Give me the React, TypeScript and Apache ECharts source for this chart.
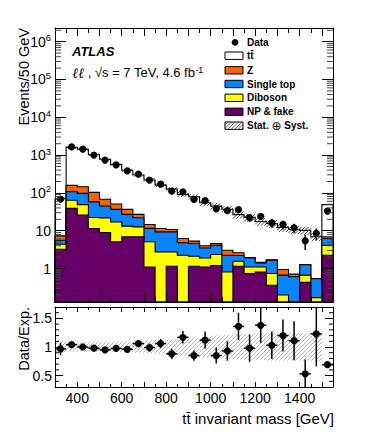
import React, { useEffect, useRef } from "react";
import * as echarts from "echarts";

const FONT = "'Liberation Sans', Arial, Helvetica, 'DejaVu Sans', sans-serif";

// ---- data ----
const binLow = [300, 350, 400, 450, 500, 550, 600, 650, 700, 750, 800, 850, 900, 950, 1000, 1050, 1100, 1150, 1200, 1250, 1300, 1350, 1400, 1450, 1500];
const BIN_WIDTH = 50;

const npFake = [3.2, 39, 26, 11.4, 9.0, 5.1, 6.9, 6.9, 1.1, 0, 1.15, 0, 1.15, 1.1, 1.2, 0, 1.15, 0.74, 0.81, 0.36, 0, 0, 0.43, 0, 2.25];
const diboson = [1.2, 25, 23, 11, 12.9, 11.9, 6.3, 5.7, 4.0, 2.75, 1.6, 2.25, 0.95, 0.8, 1.15, 0.81, 0.41, 0.36, 0.29, 0.38, 0.2, 0, 0.24, 0.17, 1.85];
const singleTop = [1.2, 43, 48, 35.6, 23.1, 19.6, 13.8, 9.4, 6.4, 6.55, 6.55, 2.55, 2.5, 1.6, 1.75, 1.44, 0.64, 0.8, 0.3, 0.92, 0.47, 0.61, 0.6, 0.37, 2.1];
const zJets = [1.7, 51, 48, 45, 23, 14.4, 9.6, 5, 3.1, 2.1, 1.5, 1.4, 0.7, 0.5, 0.5, 0.8, 0.4, 0.05, 0.05, 0.04, 0.27, 0.1, 0, 0, 0.7];
const ttbar = [62.7, 1438, 1295, 917, 711, 513, 359, 270, 205, 149, 115, 85, 74, 51, 40, 34, 24, 20.5, 16, 13.8, 11.3, 10, 8.9, 6.4, 42];

const dataCounts = [68, 1660, 1440, 1000, 740, 550, 380, 315, 218, 170, 111, 107, 67, 62, 38, 34, 36, 22, 24, 16, 14.6, 11.9, 5.4, 8.5, 33];
const dataErr = [8.2, 41, 38, 32, 27, 23, 19.5, 17.7, 14.8, 13, 10.5, 10.3, 8.2, 7.9, 6.2, 5.8, 6, 4.7, 4.9, 4, 3.8, 3.4, 2.3, 2.9, 5.7];

const ratioVals = [0.965, 1.04, 1.0, 0.98, 0.95, 0.975, 0.96, 1.06, 0.99, 1.06, 0.88, 1.17, 0.85, 1.12, 0.85, 0.93, 1.36, 0.98, 1.38, 1.03, 1.2, 1.11, 0.53, 1.23, 0.69];
const ratioErr = [0.11, 0.03, 0.03, 0.03, 0.04, 0.04, 0.05, 0.06, 0.07, 0.08, 0.09, 0.11, 0.09, 0.15, 0.14, 0.17, 0.24, 0.24, 0.31, 0.24, 0.28, 0.34, 0.25, 0.57, 0.05];
const relUnc = [0.1, 0.08, 0.08, 0.08, 0.08, 0.09, 0.09, 0.1, 0.11, 0.12, 0.13, 0.15, 0.16, 0.18, 0.2, 0.21, 0.22, 0.23, 0.23, 0.24, 0.24, 0.24, 0.24, 0.24, 0];

const xTickLabels = [400, 600, 800, 1000, 1200, 1400];
const ratioTickLabels = [0.5, 1, 1.5];
const ratioMinorTicks = [0.4, 0.6, 0.7, 0.8, 0.9, 1.1, 1.2, 1.3, 1.4, 1.6];

const X_MIN = 300;
const X_MAX = 1550;
const Y_MIN = 0.13;
const Y_MAX = 2.3e6;
const R_MIN = 0.3;
const R_MAX = 1.7;

const COL = {
  tt: "#ffffff",
  z: "#ff6200",
  st: "#0a84ff",
  dib: "#ffff00",
  np: "#660066",
};

const cumNP = npFake.slice();
const cumDib = cumNP.map((v, i) => v + diboson[i]);
const cumST = cumDib.map((v, i) => v + singleTop[i]);
const cumZ = cumST.map((v, i) => v + zJets[i]);
const cumTot = cumZ.map((v, i) => v + ttbar[i]);

const layers = [
  { vals: cumTot, color: COL.tt },
  { vals: cumZ, color: COL.z },
  { vals: cumST, color: COL.st },
  { vals: cumDib, color: COL.dib },
  { vals: cumNP, color: COL.np },
];

const logMinorTicks: number[] = [];
for (let e = -1; e <= 6; e++) {
  for (let k = 2; k <= 9; k++) {
    const v = k * Math.pow(10, e);
    if (v > Y_MIN && v < Y_MAX) logMinorTicks.push(v);
  }
}

function hatchLines(x0: number, x1: number, y0: number, y1: number, step: number, style: any) {
  const out: any[] = [];
  const cStart = Math.ceil((x0 + y0) / step) * step;
  for (let c = cStart; c <= x1 + y1; c += step) {
    const xa = Math.max(x0, c - y1);
    const xb = Math.min(x1, c - y0);
    if (xb - xa > 0.3) {
      out.push({ type: "line", shape: { x1: xa, y1: c - xa, x2: xb, y2: c - xb }, style });
    }
  }
  return out;
}

function buildOption(): any {
  const axisLineStyle = { color: "#000", width: 1 };
  const baseX = (grid: number, pos: string, showLabel: boolean, tickLen: number, minorLen: number) => ({
    type: "value",
    gridIndex: grid,
    position: pos,
    min: X_MIN,
    max: X_MAX,
    interval: 100,
    z: 10,
    axisLine: { show: true, onZero: false, lineStyle: axisLineStyle },
    axisTick: { show: true, inside: true, length: tickLen, lineStyle: { color: "#000" } },
    minorTick: { show: true, splitNumber: 2, length: minorLen, lineStyle: { color: "#000" } },
    splitLine: { show: false },
    axisLabel: showLabel
      ? {
          show: true,
          margin: 4,
          fontSize: 14,
          color: "#000",
          fontFamily: FONT,
          formatter: (v: number) => (xTickLabels.indexOf(v) >= 0 ? String(v) : ""),
        }
      : { show: false },
  });

  const logY = (pos: string, showLabel: boolean) => ({
    type: "log",
    logBase: 10,
    gridIndex: 0,
    position: pos,
    min: Y_MIN,
    max: Y_MAX,
    z: 10,
    axisLine: { show: true, onZero: false, lineStyle: axisLineStyle },
    axisTick: { show: true, inside: true, length: 11, lineStyle: { color: "#000" } },
    splitLine: { show: false },
    minorTick: { show: false },
    axisLabel: showLabel
      ? {
          show: true,
          margin: 4,
          fontSize: 14,
          color: "#000",
          fontFamily: FONT,
          lineHeight: 18,
          formatter: (v: number) => {
            const lg = Math.log10(v);
            const e = Math.round(lg);
            if (Math.abs(lg - e) > 1e-6) return "";
            if (e === 0) return "1";
            if (e === 1) return "10";
            return "10{sup|" + e + "}";
          },
          rich: {
            sup: { fontSize: 9.5, verticalAlign: "top", lineHeight: 10, fontFamily: FONT, color: "#000" },
          },
        }
      : { show: false },
  });

  const ratioY = (pos: string, showLabel: boolean) => ({
    type: "value",
    gridIndex: 1,
    position: pos,
    min: R_MIN,
    max: R_MAX,
    splitNumber: 3,
    z: 10,
    axisLine: { show: true, onZero: false, lineStyle: axisLineStyle },
    axisTick: { show: true, inside: true, length: 8, lineStyle: { color: "#000" } },
    splitLine: { show: false },
    minorTick: { show: false },
    axisLabel: showLabel
      ? {
          show: true,
          margin: 3,
          fontSize: 14,
          color: "#000",
          fontFamily: FONT,
          formatter: (v: number) => {
            const hit = ratioTickLabels.find((t) => Math.abs(t - v) < 1e-6);
            return hit !== undefined ? String(hit) : "";
          },
        }
      : { show: false },
  });

  const series: any[] = [];

  // stacked histograms drawn as filled step polygons
  series.push({
    type: "custom",
    xAxisIndex: 0,
    yAxisIndex: 0,
    z: 2,
    silent: true,
    data: layers.map((_, i) => [X_MIN, 1, i]),
    renderItem: (params: any, api: any) => {
      const layer = layers[params.dataIndex];
      const pts: number[][] = [];
      pts.push(api.coord([X_MIN, Y_MIN]));
      for (let i = 0; i < binLow.length; i++) {
        const v = layer.vals[i] > Y_MIN ? layer.vals[i] : Y_MIN;
        pts.push(api.coord([binLow[i], v]));
        pts.push(api.coord([binLow[i] + BIN_WIDTH, v]));
      }
      pts.push(api.coord([X_MAX, Y_MIN]));
      return {
        type: "polygon",
        shape: { points: pts },
        style: { fill: layer.color, stroke: "#000", lineWidth: 1.1 },
      };
    },
  });

  // hatched uncertainty band in top panel
  series.push({
    type: "custom",
    xAxisIndex: 0,
    yAxisIndex: 0,
    z: 3,
    silent: true,
    data: binLow.map((b, i) => [b + BIN_WIDTH / 2, cumTot[i]]),
    renderItem: (params: any, api: any) => {
      const i = params.dataIndex;
      const u = relUnc[i];
      if (!(u > 0)) return { type: "group", children: [] };
      const p1 = api.coord([binLow[i], cumTot[i] * (1 + u)]);
      const p2 = api.coord([binLow[i] + BIN_WIDTH, cumTot[i] * (1 - u)]);
      return {
        type: "group",
        children: hatchLines(p1[0], p2[0], p1[1], p2[1], 3.5, { stroke: "#333", lineWidth: 0.9 }),
      };
    },
  });

  // data points in top panel
  series.push({
    type: "custom",
    xAxisIndex: 0,
    yAxisIndex: 0,
    z: 5,
    silent: true,
    data: binLow.map((b, i) => [b + BIN_WIDTH / 2, dataCounts[i]]),
    renderItem: (params: any, api: any) => {
      const i = params.dataIndex;
      const x = binLow[i] + BIN_WIDTH / 2;
      const c = api.coord([x, dataCounts[i]]);
      const lo = api.coord([x, Math.max(dataCounts[i] - dataErr[i], Y_MIN)]);
      const hi = api.coord([x, Math.min(dataCounts[i] + dataErr[i], Y_MAX)]);
      return {
        type: "group",
        children: [
          { type: "line", shape: { x1: c[0], y1: lo[1], x2: c[0], y2: hi[1] }, style: { stroke: "#000", lineWidth: 1.5 } },
          { type: "circle", shape: { cx: c[0], cy: c[1], r: 3.6 }, style: { fill: "#000" } },
        ],
      };
    },
  });

  // log minor ticks, left and right
  series.push({
    type: "custom",
    xAxisIndex: 0,
    yAxisIndex: 0,
    z: 11,
    silent: true,
    data: logMinorTicks.map((v) => [X_MIN, v]),
    renderItem: (params: any, api: any) => {
      const v = logMinorTicks[params.dataIndex];
      const l = api.coord([X_MIN, v]);
      const r = api.coord([X_MAX, v]);
      const st = { stroke: "#444", lineWidth: 1 };
      return {
        type: "group",
        children: [
          { type: "line", shape: { x1: l[0], y1: l[1], x2: l[0] + 6, y2: l[1] }, style: st },
          { type: "line", shape: { x1: r[0] - 6, y1: r[1], x2: r[0], y2: r[1] }, style: st },
        ],
      };
    },
  });

  // ratio band
  series.push({
    type: "custom",
    xAxisIndex: 2,
    yAxisIndex: 2,
    z: 3,
    silent: true,
    data: binLow.map((b) => [b + BIN_WIDTH / 2, 1]),
    renderItem: (params: any, api: any) => {
      const i = params.dataIndex;
      const u = relUnc[i];
      if (!(u > 0)) return { type: "group", children: [] };
      const p1 = api.coord([binLow[i], 1 + u]);
      const p2 = api.coord([binLow[i] + BIN_WIDTH, 1 - u]);
      return {
        type: "group",
        children: hatchLines(p1[0], p2[0], p1[1], p2[1], 4, { stroke: "#aaa", lineWidth: 0.9 }),
      };
    },
  });

  // ratio points
  series.push({
    type: "custom",
    xAxisIndex: 2,
    yAxisIndex: 2,
    z: 5,
    silent: true,
    data: binLow.map((b, i) => [b + BIN_WIDTH / 2, ratioVals[i]]),
    renderItem: (params: any, api: any) => {
      const i = params.dataIndex;
      const x = binLow[i] + BIN_WIDTH / 2;
      const c = api.coord([x, ratioVals[i]]);
      const lo = api.coord([x, Math.max(ratioVals[i] - ratioErr[i], R_MIN)]);
      const hi = api.coord([x, Math.min(ratioVals[i] + ratioErr[i], R_MAX)]);
      const l = api.coord([binLow[i], ratioVals[i]]);
      const r = api.coord([binLow[i] + BIN_WIDTH, ratioVals[i]]);
      const st = { stroke: "#000", lineWidth: 1.5 };
      return {
        type: "group",
        children: [
          { type: "line", shape: { x1: c[0], y1: lo[1], x2: c[0], y2: hi[1] }, style: st },
          { type: "line", shape: { x1: l[0], y1: c[1], x2: r[0], y2: c[1] }, style: st },
          { type: "circle", shape: { cx: c[0], cy: c[1], r: 3.6 }, style: { fill: "#000" } },
        ],
      };
    },
  });

  // ratio minor ticks
  series.push({
    type: "custom",
    xAxisIndex: 2,
    yAxisIndex: 2,
    z: 11,
    silent: true,
    data: ratioMinorTicks.map((v) => [X_MIN, v]),
    renderItem: (params: any, api: any) => {
      const v = ratioMinorTicks[params.dataIndex];
      const l = api.coord([X_MIN, v]);
      const r = api.coord([X_MAX, v]);
      const st = { stroke: "#000", lineWidth: 1 };
      return {
        type: "group",
        children: [
          { type: "line", shape: { x1: l[0], y1: l[1], x2: l[0] + 4, y2: l[1] }, style: st },
          { type: "line", shape: { x1: r[0] - 4, y1: r[1], x2: r[0], y2: r[1] }, style: st },
        ],
      };
    },
  });

  // legend & labels (graphic)
  const txt = (x: number, y: number, text: string, extra: any = {}) => ({
    type: "text",
    x,
    y,
    z: 20,
    style: {
      text,
      fill: "#000",
      fontFamily: FONT,
      fontSize: 10,
      fontWeight: "bold",
      align: "left",
      textAlign: "left",
      verticalAlign: "middle",
      textVerticalAlign: "middle",
      ...extra,
    },
  });

  const legendRows = [
    { label: "t\u0074\u0304", color: COL.tt, y: 55.7 },
    { label: "Z", color: COL.z, y: 70.3 },
    { label: "Single top", color: COL.st, y: 84 },
    { label: "Diboson", color: COL.dib, y: 97.8 },
    { label: "NP & fake", color: COL.np, y: 111.8 },
  ];
  const LBX = 225;
  const LBW = 18;
  const LBH = 7.4;
  const LTX = 247;

  const graphics: any[] = [];
  graphics.push({ type: "circle", z: 20, shape: { cx: 235, cy: 42.3, r: 3.3 }, style: { fill: "#000" } });
  graphics.push(txt(LTX, 42.3, "Data"));
  legendRows.forEach((row) => {
    graphics.push({
      type: "rect",
      z: 20,
      shape: { x: LBX, y: row.y - LBH / 2, width: LBW, height: LBH },
      style: { fill: row.color, stroke: "#000", lineWidth: 1 },
    });
    graphics.push(txt(LTX, row.y, row.label));
  });
  const hy = 125.7;
  graphics.push({
    type: "rect",
    z: 20,
    shape: { x: LBX, y: hy - LBH / 2, width: LBW, height: LBH },
    style: { fill: "#fff", stroke: "#000", lineWidth: 1 },
  });
  graphics.push({
    type: "group",
    z: 21,
    children: hatchLines(LBX, LBX + LBW, hy - LBH / 2, hy + LBH / 2, 3.5, { stroke: "#333", lineWidth: 0.8 }).map((l) => ({ ...l, z: 21 })),
  });
  graphics.push(
    txt(LTX, hy, "Stat. {op|\u2295} Syst.", {
      rich: { op: { fontSize: 12, fontFamily: "'DejaVu Sans', sans-serif", fontWeight: "normal" } },
    })
  );

  // ATLAS label
  graphics.push(txt(72, 51.7, "ATLAS", { fontSize: 13, fontStyle: "italic", fontWeight: "bold" }));
  graphics.push(
    txt(72, 72.5, "{it|\u2113\u2113} , \u221As = 7 TeV, 4.6 fb{sup|-1}", {
      fontSize: 13,
      fontWeight: "normal",
      lineHeight: 15,
      rich: {
        it: { fontSize: 14.5, fontStyle: "italic", fontFamily: "'DejaVu Serif', serif", lineHeight: 15 },
        sup: { fontSize: 9, verticalAlign: "top", lineHeight: 9, fontFamily: FONT },
      },
    })
  );

  // axis titles
  const vTitle = (x: number, y: number, text: string) => ({
    type: "text",
    x,
    y,
    rotation: Math.PI / 2,
    z: 20,
    style: {
      text,
      fill: "#000",
      fontFamily: FONT,
      fontSize: 14.5,
      align: "right",
      textAlign: "right",
      verticalAlign: "middle",
      textVerticalAlign: "middle",
    },
  });
  graphics.push(vTitle(24, 28, "Events/50 GeV"));
  graphics.push(vTitle(24, 307, "Data/Exp."));
  graphics.push({
    type: "text",
    x: 334,
    y: 418,
    z: 20,
    style: {
      text: "t\u0074\u0304 invariant mass [GeV]",
      fill: "#000",
      fontFamily: FONT,
      fontSize: 15,
      align: "right",
      textAlign: "right",
      verticalAlign: "middle",
      textVerticalAlign: "middle",
    },
  });

  return {
    animation: false,
    backgroundColor: "#fff",
    textStyle: { fontFamily: FONT },
    grid: [
      { left: 55, right: 57, top: 28, height: 274, containLabel: false, outerBoundsMode: "none" },
      { left: 55, right: 57, top: 307, height: 80, containLabel: false, outerBoundsMode: "none" },
    ],
    xAxis: [
      baseX(0, "bottom", false, 8, 5),
      baseX(0, "top", false, 8, 5),
      baseX(1, "bottom", true, 5, 3),
      baseX(1, "top", false, 5, 3),
    ],
    yAxis: [logY("left", true), logY("right", false), ratioY("left", true), ratioY("right", false)],
    series,
    graphic: graphics,
  };
}

export default function App() {
  const ref = useRef<HTMLDivElement>(null);
  useEffect(() => {
    if (!ref.current) return;
    const chart = echarts.init(ref.current, null, { renderer: "svg" });
    chart.setOption(buildOption());
    return () => {
      chart.dispose();
    };
  }, []);
  return (
    <div
      ref={ref}
      style={{ position: "absolute", left: 0, top: 0, width: 390, height: 440, background: "#fff" }}
    />
  );
}
